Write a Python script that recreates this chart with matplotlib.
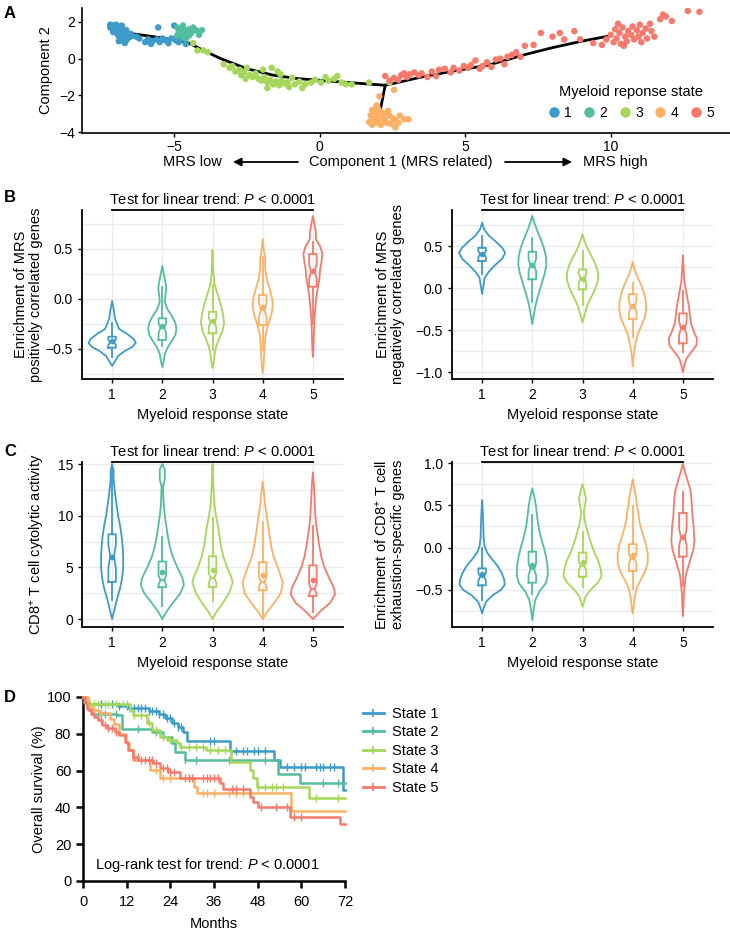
import numpy as np
import matplotlib
matplotlib.use('Agg')
import matplotlib.pyplot as plt
from matplotlib.lines import Line2D
from matplotlib.patches import FancyArrowPatch
from matplotlib.transforms import blended_transform_factory
from matplotlib.ticker import MultipleLocator

plt.rcParams['font.family'] = ['Liberation Sans', 'DejaVu Sans']
plt.rcParams['mathtext.fontset'] = 'custom'
plt.rcParams['mathtext.rm'] = 'Liberation Sans'
plt.rcParams['mathtext.it'] = 'Liberation Sans:italic'
plt.rcParams['mathtext.bf'] = 'Liberation Sans:bold'

# ---------------- colours / categories ----------------
states = ['1', '2', '3', '4', '5']
colors = ['#3C9BC9', '#52BD9F', '#A6D65A', '#FDB063', '#F6796C']

# ---------------- Panel A: trajectory scatter ----------------
s1_x = [-7.2, -7.1, -7.0, -6.9, -7.15, -7.05, -6.95, -6.85, -6.8, -6.75, -7.1, -6.95, -6.85, -6.7, -6.9, -6.75,
        -6.6, -6.8, -6.65, -6.9, -6.55, -6.45, -7.0, -6.8, -6.65, -7.2, -6.5, -6.7, -6.2, -6.0, -5.9, -5.75,
        -5.6, -5.5, -5.3, -5.2, -5.1, -4.95, -4.85, -4.75, -4.6, -5.55, -5.0, -5.4, -5.8, -6.3]
s1_y = [1.85, 1.8, 1.85, 1.75, 1.65, 1.6, 1.55, 1.65, 1.5, 1.4, 1.45, 1.35, 1.3, 1.3, 1.2, 1.15,
        1.25, 1.05, 1.0, 0.95, 1.15, 1.25, 1.7, 1.8, 1.55, 1.7, 1.35, 0.85, 1.1, 0.9, 1.05, 0.95,
        1.05, 0.9, 1.0, 0.85, 1.1, 1.0, 0.9, 1.05, 0.8, 1.7, 1.8, 1.1, 0.8, 1.2]
s2_x = [-4.9, -4.8, -4.7, -4.6, -4.85, -4.75, -4.65, -4.55, -4.5, -4.4, -4.35, -4.25, -4.9, -4.7, -4.6,
        -4.5, -4.8, -4.45, -4.05, -4.15, -4.7]
s2_y = [1.7, 1.6, 1.65, 1.5, 1.45, 1.35, 1.4, 1.3, 1.6, 1.45, 1.7, 1.55, 1.25, 1.2, 1.1,
        1.25, 1.5, 1.35, 1.55, 1.3, 1.8]
s3_x = [-4.35, -4.2, -4.0, -3.85, -3.3, -3.1, -3.0, -2.9, -2.75, -2.7, -2.6, -2.5, -2.4, -2.3, -2.2, -2.1,
        -2.0, -1.95, -1.9, -1.8, -1.7, -1.65, -1.6, -1.5, -1.45, -1.4, -1.3, -1.2, -1.1, -1.05, -1.8, -0.95,
        -0.85, -0.6, -0.5, -0.3, -0.15, 0.05, 0.2, 0.3, 0.5, 0.6, 0.75, 0.9, 1.1, 1.7, 2.4, -2.55, -1.35, -0.7]
s3_y = [0.85, 0.45, 0.45, 0.35, -0.3, -0.5, -0.4, -0.7, -0.6, -0.9, -0.75, -0.5, -0.9, -1.0, -0.8, -1.1,
        -1.2, -0.6, -1.0, -1.3, -1.15, -0.5, -1.4, -1.25, -0.7, -1.45, -1.2, -1.35, -1.3, -1.55, -1.6, -1.05,
        -1.4, -1.6, -1.4, -1.3, -1.15, -1.3, -1.0, -1.2, -1.1, -0.95, -1.3, -1.4, -1.4, -1.3, -1.3, -1.1, -0.85, -1.25]
s4_x = [1.8, 1.9, 2.0, 2.1, 2.2, 1.75, 1.85, 1.95, 2.05, 2.15, 2.25, 1.7, 1.9, 2.0, 2.1, 2.3, 2.4, 2.5,
        2.6, 2.75, 2.9, 3.05, 2.7, 2.6, 1.95, 2.35, 2.05, 2.55, 2.45, 1.8]
s4_y = [-2.8, -2.95, -2.7, -2.9, -3.0, -3.1, -3.25, -3.15, -3.3, -3.2, -3.35, -3.45, -3.5, -3.45, -3.6, -3.5,
        -3.1, -3.25, -3.35, -3.1, -3.3, -3.3, -3.5, -3.75, -2.55, -2.85, -2.05, -1.7, -3.55, -3.6]
s5_x = [2.25, 2.4, 2.55, 2.7, 2.8, 2.9, 3.0, 3.1, 3.25, 3.4, 3.5, 3.7, 3.85, 4.0, 4.1, 4.3, 4.5, 4.6, 4.8,
        4.95, 5.1, 5.2, 5.35, 5.5, 5.6, 5.75, 5.9, 6.05, 6.2, 6.35, 6.45, 6.6, 6.75, 6.9, 7.05, 7.35, 7.6,
        8.0, 8.25, 8.4, 8.75, 8.95, 9.4, 9.7, 9.85, 10.0, 10.1, 10.15, 10.2, 10.3, 10.35, 10.4, 10.5, 10.55,
        10.6, 10.7, 10.75, 10.8, 10.9, 10.95, 11.0, 11.05, 11.1, 11.2, 11.25, 11.35, 11.4, 11.5, 10.45, 10.25,
        11.7, 11.8, 11.9, 12.1, 12.65, 13.05]
s5_y = [-0.95, -1.2, -1.05, -1.15, -0.9, -0.8, -1.0, -0.85, -0.75, -0.9, -0.8, -1.0, -0.7, -0.95, -0.6,
        -0.55, -0.75, -0.5, -0.65, -0.4, -0.5, -0.35, -0.1, -0.55, -0.4, -0.2, -0.45, -0.05, 0.0, -0.3, 0.1,
        0.2, 0.35, 0.1, 0.7, 0.75, 1.4, 1.2, 1.4, 1.05, 1.5, 1.05, 0.85, 0.75, 1.05, 1.3, 0.9, 1.6, 1.1, 1.4,
        0.8, 1.7, 1.2, 0.95, 1.5, 1.3, 1.75, 1.05, 1.55, 1.2, 1.85, 0.9, 1.4, 1.65, 1.1, 1.9, 1.5, 1.2, 0.7,
        1.9, 2.15, 2.4, 2.3, 2.05, 2.6, 2.55]
scatter_x = [s1_x, s2_x, s3_x, s4_x, s5_x]
scatter_y = [s1_y, s2_y, s3_y, s4_y, s5_y]

traj_main_x = [-6.4, -5.5, -5.0, -4.5, -4.0, -3.4, -2.5, -1.6, -0.8, 0.0, 1.0, 2.25]
traj_main_y = [1.35, 1.15, 1.02, 0.85, 0.45, 0.0, -0.55, -0.9, -1.08, -1.18, -1.3, -1.45]
traj_right_x = [2.25, 3.5, 4.5, 5.8, 7.0, 8.0, 9.0, 10.0]
traj_right_y = [-1.45, -1.0, -0.7, -0.35, 0.2, 0.6, 0.95, 1.25]
traj_branch_x = [2.25, 2.1]
traj_branch_y = [-1.45, -2.65]

# ---------------- Panel B left: MRS positively correlated ----------------
bl_vy = [
    [-0.67, -0.62, -0.57, -0.52, -0.48, -0.44, -0.40, -0.35, -0.30, -0.20, -0.10, -0.02],
    [-0.68, -0.62, -0.55, -0.48, -0.42, -0.36, -0.30, -0.24, -0.17, -0.10, -0.03, 0.03, 0.10, 0.15, 0.25, 0.33],
    [-0.69, -0.64, -0.56, -0.48, -0.40, -0.32, -0.24, -0.15, -0.05, 0.05, 0.15, 0.25, 0.35, 0.49],
    [-0.74, -0.65, -0.55, -0.45, -0.35, -0.25, -0.16, -0.08, 0.00, 0.10, 0.20, 0.30, 0.40, 0.50, 0.60],
    [-0.58, -0.50, -0.35, -0.20, -0.08, 0.02, 0.12, 0.20, 0.28, 0.37, 0.45, 0.52, 0.60, 0.67, 0.75, 0.83]]
bl_vw = [
    [0.0, 0.06, 0.12, 0.25, 0.40, 0.47, 0.43, 0.30, 0.14, 0.06, 0.03, 0.0],
    [0.0, 0.03, 0.05, 0.11, 0.19, 0.26, 0.28, 0.26, 0.19, 0.10, 0.05, 0.06, 0.08, 0.07, 0.03, 0.0],
    [0.0, 0.02, 0.04, 0.07, 0.13, 0.20, 0.23, 0.21, 0.16, 0.10, 0.04, 0.02, 0.01, 0.0],
    [0.0, 0.02, 0.03, 0.04, 0.06, 0.11, 0.17, 0.20, 0.19, 0.14, 0.08, 0.05, 0.05, 0.02, 0.0],
    [0.0, 0.01, 0.02, 0.03, 0.05, 0.07, 0.10, 0.13, 0.14, 0.17, 0.19, 0.15, 0.06, 0.06, 0.03, 0.0]]
bl_q1 = [-0.487, -0.41, -0.343, -0.26, 0.123]
bl_med = [-0.433, -0.29, -0.233, -0.11, 0.273]
bl_q3 = [-0.377, -0.193, -0.127, 0.04, 0.45]
bl_wlo = [-0.577, -0.47, -0.51, -0.51, -0.25]
bl_whi = [-0.243, 0.117, 0.14, 0.423, 0.573]
bl_mean = [-0.42, -0.27, -0.22, -0.077, 0.283]
bl_nlo = [-0.46, -0.34, -0.28, -0.18, 0.20]
bl_nhi = [-0.405, -0.24, -0.19, -0.04, 0.35]

# ---------------- Panel B right: MRS negatively correlated ----------------
br_vy = [
    [-0.07, 0.04, 0.12, 0.20, 0.28, 0.35, 0.42, 0.48, 0.55, 0.62, 0.70, 0.78],
    [-0.43, -0.32, -0.22, -0.12, -0.02, 0.08, 0.18, 0.28, 0.38, 0.48, 0.58, 0.68, 0.78, 0.86],
    [-0.41, -0.30, -0.20, -0.10, 0.00, 0.10, 0.18, 0.28, 0.38, 0.47, 0.56, 0.64],
    [-0.93, -0.85, -0.75, -0.65, -0.55, -0.45, -0.35, -0.25, -0.15, -0.05, 0.05, 0.15, 0.24, 0.31],
    [-1.00, -0.92, -0.84, -0.76, -0.68, -0.60, -0.52, -0.42, -0.32, -0.22, -0.12, -0.02, 0.08, 0.18, 0.28, 0.39]]
br_vw = [
    [0.0, 0.03, 0.05, 0.14, 0.27, 0.40, 0.46, 0.40, 0.28, 0.14, 0.04, 0.0],
    [0.0, 0.03, 0.06, 0.10, 0.15, 0.20, 0.25, 0.28, 0.27, 0.23, 0.17, 0.10, 0.04, 0.0],
    [0.0, 0.05, 0.10, 0.18, 0.26, 0.31, 0.31, 0.26, 0.18, 0.10, 0.04, 0.0],
    [0.0, 0.01, 0.03, 0.06, 0.10, 0.17, 0.24, 0.27, 0.26, 0.22, 0.16, 0.08, 0.03, 0.0],
    [0.0, 0.03, 0.07, 0.17, 0.27, 0.28, 0.22, 0.16, 0.14, 0.12, 0.09, 0.06, 0.03, 0.02, 0.01, 0.0]]
br_q1 = [0.322, 0.104, -0.016, -0.369, -0.659]
br_med = [0.405, 0.274, 0.115, -0.222, -0.48]
br_q3 = [0.48, 0.433, 0.222, -0.072, -0.302]
br_wlo = [0.167, -0.163, -0.202, -0.58, -0.758]
br_whi = [0.619, 0.591, 0.444, 0.063, -0.036]
br_mean = [0.40, 0.27, 0.11, -0.21, -0.46]
br_nlo = [0.37, 0.20, 0.06, -0.29, -0.56]
br_nhi = [0.44, 0.35, 0.17, -0.15, -0.40]

# ---------------- Panel C left: CD8 T cell cytolytic activity ----------------
cl_vy = [
    [0.0, 1.0, 2.0, 3.0, 4.0, 5.0, 6.0, 7.0, 8.0, 9.0, 10.0, 11.0, 12.5, 13.5, 14.3, 15.0],
    [0.0, 0.7, 1.5, 2.5, 3.3, 4.0, 5.0, 6.0, 7.0, 8.0, 9.0, 10.0, 11.0, 12.0, 12.8, 13.5, 14.5, 15.0],
    [0.0, 0.7, 1.5, 2.5, 3.5, 4.0, 5.0, 6.0, 7.0, 8.0, 9.0, 10.0, 11.0, 12.5, 14.0, 15.0],
    [0.0, 0.7, 1.5, 2.5, 3.5, 4.0, 5.0, 6.0, 7.0, 8.0, 9.0, 10.0, 11.0, 12.5, 13.3],
    [0.0, 0.8, 1.6, 2.4, 3.0, 4.0, 5.0, 6.0, 7.0, 8.0, 9.0, 10.0, 11.0, 12.0, 13.0, 14.2]]
cl_vw = [
    [0.0, 0.05, 0.10, 0.16, 0.20, 0.22, 0.22, 0.21, 0.19, 0.16, 0.12, 0.09, 0.05, 0.03, 0.03, 0.0],
    [0.0, 0.08, 0.20, 0.36, 0.43, 0.40, 0.30, 0.21, 0.15, 0.11, 0.08, 0.05, 0.03, 0.02, 0.015, 0.05, 0.05, 0.0],
    [0.0, 0.08, 0.20, 0.33, 0.40, 0.38, 0.29, 0.22, 0.17, 0.14, 0.11, 0.07, 0.04, 0.02, 0.01, 0.0],
    [0.0, 0.09, 0.22, 0.36, 0.40, 0.37, 0.30, 0.22, 0.17, 0.14, 0.11, 0.08, 0.05, 0.02, 0.0],
    [0.0, 0.16, 0.35, 0.44, 0.42, 0.32, 0.23, 0.17, 0.13, 0.10, 0.07, 0.05, 0.04, 0.03, 0.02, 0.0]]
cl_q1 = [3.6, 3.08, 3.1, 2.78, 2.24]
cl_med = [6.1, 3.75, 3.96, 3.6, 2.9]
cl_q3 = [8.2, 5.57, 6.07, 5.5, 5.2]
cl_wlo = [1.85, 1.25, 1.7, 0.1, 0.65]
cl_whi = [14.8, 7.9, 9.8, 9.4, 9.0]
cl_mean = [5.98, 4.6, 4.7, 4.3, 3.8]
cl_nlo = [4.9, 3.3, 3.5, 3.1, 2.4]
cl_nhi = [7.2, 4.2, 4.45, 4.1, 3.4]

# ---------------- Panel C right: CD8 T cell exhaustion genes ----------------
cr_vy = [
    [-0.78, -0.72, -0.64, -0.56, -0.50, -0.44, -0.38, -0.30, -0.22, -0.14, -0.06, 0.02, 0.12, 0.25, 0.40, 0.56],
    [-0.86, -0.72, -0.62, -0.52, -0.42, -0.32, -0.20, -0.10, 0.00, 0.10, 0.20, 0.30, 0.40, 0.50, 0.60, 0.70],
    [-0.70, -0.58, -0.50, -0.42, -0.34, -0.25, -0.15, -0.05, 0.05, 0.15, 0.25, 0.34, 0.42, 0.50, 0.58, 0.66, 0.75],
    [-0.78, -0.70, -0.60, -0.48, -0.38, -0.28, -0.18, -0.08, 0.02, 0.12, 0.22, 0.32, 0.42, 0.52, 0.62, 0.72, 0.81],
    [-0.81, -0.70, -0.55, -0.42, -0.32, -0.22, -0.12, -0.02, 0.08, 0.18, 0.28, 0.38, 0.48, 0.58, 0.68, 0.78, 0.88, 0.99]]
cr_vw = [
    [0.0, 0.03, 0.08, 0.22, 0.38, 0.45, 0.44, 0.39, 0.31, 0.20, 0.10, 0.05, 0.03, 0.025, 0.015, 0.0],
    [0.0, 0.03, 0.06, 0.14, 0.27, 0.31, 0.30, 0.27, 0.23, 0.18, 0.14, 0.11, 0.09, 0.07, 0.04, 0.0],
    [0.0, 0.06, 0.16, 0.30, 0.38, 0.36, 0.31, 0.23, 0.17, 0.12, 0.07, 0.04, 0.025, 0.05, 0.07, 0.04, 0.0],
    [0.0, 0.02, 0.04, 0.08, 0.16, 0.25, 0.30, 0.30, 0.27, 0.22, 0.17, 0.13, 0.11, 0.08, 0.06, 0.025, 0.0],
    [0.0, 0.01, 0.02, 0.04, 0.06, 0.11, 0.16, 0.21, 0.23, 0.22, 0.21, 0.19, 0.18, 0.17, 0.15, 0.10, 0.05, 0.0]]
cr_q1 = [-0.448, -0.416, -0.345, -0.278, -0.107]
cr_med = [-0.345, -0.258, -0.218, -0.131, 0.119]
cr_q3 = [-0.246, -0.047, -0.059, 0.04, 0.41]
cr_wlo = [-0.615, -0.544, -0.464, -0.488, -0.456]
cr_whi = [0.0, 0.385, 0.186, 0.488, 0.655]
cr_mean = [-0.317, -0.206, -0.171, -0.087, 0.12]
cr_nlo = [-0.39, -0.33, -0.27, -0.19, 0.02]
cr_nhi = [-0.30, -0.19, -0.17, -0.07, 0.22]

# ---------------- Panel D: Kaplan-Meier ----------------
km_labels = ['State 1', 'State 2', 'State 3', 'State 4', 'State 5']
km1_t = [0, 0.5, 1.5, 9.5, 12.5, 18, 21, 22.5, 24.5, 26, 27.5, 28.5, 40.5, 52.5, 54, 71.5]
km1_s = [100, 98, 96, 95, 94, 92.5, 90.5, 88.5, 86, 83.5, 81, 76, 70.5, 66, 62, 49.5]
km2_t = [0, 0.4, 1, 2.8, 9.3, 10.6, 19, 22, 24.4, 25.3, 28, 53.5, 59.5]
km2_s = [100, 96.5, 94, 91, 90, 82.5, 81, 78.4, 74.8, 70.2, 65.5, 58, 53.5]
km3_t = [0, 1, 13, 13.8, 17.5, 19, 21.2, 23, 25.7, 26.6, 33.9, 40.8, 45.9, 46.8, 47.7, 62]
km3_s = [100, 96.4, 92.8, 90.1, 85.6, 82, 78.4, 76.6, 74.8, 73, 71.2, 64.9, 60.3, 55.8, 51, 45]
km4_t = [0, 1.3, 2.8, 4.5, 7.4, 8.5, 10, 11.8, 12.6, 13.8, 18.4, 21.2, 30.6, 31.3, 57.2]
km4_s = [100, 94.6, 93, 91.5, 88, 85.5, 80, 75, 71, 65.5, 60.3, 55.8, 51.3, 47.7, 38.2]
km5_t = [0, 0.5, 1, 1.5, 2.2, 3, 4, 5.2, 6.5, 8.8, 10, 11.5, 12.5, 13.8, 15.2, 19.3, 21.2, 23.4, 26.6,
         37.6, 38.5, 45.9, 46.8, 48, 57, 70.7]
km5_s = [100, 97, 94, 92.8, 90.5, 89, 87.5, 85, 83, 81, 79.3, 75.7, 71.2, 67.5, 65.7, 63.9, 61.2, 59.3, 55.8,
         53, 49.8, 45.7, 43, 40.2, 35, 31]
km1_c = [5, 8, 10, 12, 13, 14, 15, 16, 17, 18, 19, 20, 21, 22, 23, 24, 25, 26, 27, 35, 36, 42, 44, 45, 47,
         48, 50, 56, 58, 60, 61, 64, 65, 66, 68, 69]
km2_c = [4, 6, 9, 15, 20, 28, 31, 40, 50, 66, 70]
km3_c = [2, 3, 4, 6, 7, 9, 11, 12, 14, 16, 18, 20, 22, 24, 27, 29, 31, 33, 35, 37, 39, 48, 50, 52, 53, 55, 64, 70]
km4_c = [3, 5, 20, 22, 24, 29, 33, 34, 36, 40, 42, 44]
km5_c = [5, 6, 7, 8, 9, 14, 15, 16, 17, 18, 19, 20, 22, 23, 24, 25, 28, 29, 30, 33, 34, 35, 36, 37, 41, 42,
         44, 49, 53, 56, 58, 60]
km_t = [km1_t, km2_t, km3_t, km4_t, km5_t]
km_s = [km1_s, km2_s, km3_s, km4_s, km5_s]
km_c = [km1_c, km2_c, km3_c, km4_c, km5_c]
km_end = 72

# ======================================================================
W, H = 730, 936
fig = plt.figure(figsize=(W / 100, H / 100), dpi=100)


def add_ax(l, r, t, b):
    return fig.add_axes([l / W, 1 - b / H, (r - l) / W, (b - t) / H])


TICK_FS = 10
LAB_FS = 10.5

# ---------------- Panel A ----------------
axA = add_ax(82, 730, 8, 133)
axA.plot(traj_main_x, traj_main_y, color='black', lw=2, zorder=1)
axA.plot(traj_right_x, traj_right_y, color='black', lw=2, zorder=1)
axA.plot(traj_branch_x, traj_branch_y, color='black', lw=2, zorder=1)
for i in range(5):
    axA.scatter(scatter_x[i], scatter_y[i], s=22, color=colors[i], edgecolors='none', zorder=2)
axA.set_xlim(-8.17, 14.1)
axA.set_ylim(-4.05, 2.76)
axA.set_xticks([-5, 0, 5, 10])
axA.set_yticks([-4, -2, 0, 2])
for sp in ['top', 'right']:
    axA.spines[sp].set_visible(False)
for sp in ['left', 'bottom']:
    axA.spines[sp].set_linewidth(1.2)
axA.tick_params(labelsize=TICK_FS, length=3, width=1, pad=2)
axA.set_ylabel('Component 2', fontsize=LAB_FS)
axA.yaxis.set_label_coords(-0.045, 0.5)
handles = [Line2D([0], [0], marker='o', ls='none', color=c, markersize=6.5) for c in colors]
leg = axA.legend(handles, states, title='Myeloid reponse state', ncol=5, loc='lower right',
                 bbox_to_anchor=(0.99, 0.03), frameon=False, handlelength=0.8, handletextpad=0.35,
                 columnspacing=0.85, fontsize=10, title_fontsize=10.5, borderpad=0.2)

yA = 1 - 162 / H
fig.text(401 / W, yA, 'Component 1 (MRS related)', ha='center', va='center', fontsize=LAB_FS)
fig.text(192 / W, yA, 'MRS low', ha='center', va='center', fontsize=LAB_FS)
fig.text(615 / W, yA, 'MRS high', ha='center', va='center', fontsize=LAB_FS)
fig.add_artist(FancyArrowPatch((298 / W, yA), (233 / W, yA), transform=fig.transFigure,
                               arrowstyle='-|>', mutation_scale=12, lw=1.3, color='black',
                               shrinkA=0, shrinkB=0))
fig.add_artist(FancyArrowPatch((505 / W, yA), (572 / W, yA), transform=fig.transFigure,
                               arrowstyle='-|>', mutation_scale=12, lw=1.3, color='black',
                               shrinkA=0, shrinkB=0))


# ---------------- violin panels ----------------
def violin_panel(ax, vy, vw, q1, med, q3, wlo, whi, mean, nlo, nhi, ylim, major, ylabel, label_x):
    for i in range(5):
        st = [dict(coords=np.array(vy[i]), vals=np.array(vw[i]), mean=mean[i], median=med[i],
                   min=min(vy[i]), max=max(vy[i]))]
        parts = ax.violin(st, positions=[i + 1], widths=[2 * max(vw[i])], showmeans=False,
                          showextrema=False, showmedians=False)
        for pc in parts['bodies']:
            pc.set_facecolor('none')
            pc.set_edgecolor(colors[i])
            pc.set_linewidth(1.3)
            pc.set_alpha(1)
        bs = [dict(med=med[i], q1=q1[i], q3=q3[i], whislo=wlo[i], whishi=whi[i], cilo=nlo[i], cihi=nhi[i],
                   mean=mean[i], fliers=[])]
        c = colors[i]
        ax.bxp(bs, positions=[i + 1], widths=0.15, shownotches=True, showmeans=True, showcaps=False,
               showfliers=False, manage_ticks=False,
               boxprops=dict(color=c, lw=1.3), whiskerprops=dict(color=c, lw=1.3),
               medianprops=dict(color=c, lw=1.3),
               meanprops=dict(marker='o', markersize=3, markerfacecolor=c, markeredgecolor=c))
    ax.set_xlim(0.4, 5.6)
    ax.set_ylim(*ylim)
    ax.set_xticks([1, 2, 3, 4, 5])
    ax.set_xticklabels(states)
    ax.yaxis.set_major_locator(MultipleLocator(major))
    ax.yaxis.set_minor_locator(MultipleLocator(major / 2))
    ax.grid(which='both', axis='y', color='#EBEBEB', lw=1.0)
    ax.grid(which='major', axis='x', color='#EBEBEB', lw=1.0)
    ax.set_axisbelow(True)
    for sp in ['top', 'right']:
        ax.spines[sp].set_visible(False)
    for sp in ['left', 'bottom']:
        ax.spines[sp].set_linewidth(1.3)
    ax.tick_params(which='major', labelsize=TICK_FS, length=3, width=1)
    ax.tick_params(which='minor', length=0)
    ax.set_xlabel('Myeloid response state', fontsize=LAB_FS)
    ax.set_ylabel(ylabel, fontsize=LAB_FS, linespacing=1.1)
    ax.yaxis.set_label_coords(label_x, 0.5)
    trans = blended_transform_factory(ax.transData, ax.transAxes)
    ax.plot([1, 5], [1.0, 1.0], transform=trans, color='black', lw=1.3, clip_on=False)
    ax.text(3, 1.02, r'Test for linear trend: $\it{P}$ < 0.0001', transform=trans, ha='center',
            va='bottom', fontsize=LAB_FS)


axBL = add_ax(82, 343, 210, 379)
violin_panel(axBL, bl_vy, bl_vw, bl_q1, bl_med, bl_q3, bl_wlo, bl_whi, bl_mean, bl_nlo, bl_nhi,
             (-0.80, 0.89), 0.5, 'Enrichment of MRS\npositively correlated genes', -0.15)
axBR = add_ax(452, 713, 210, 379)
violin_panel(axBR, br_vy, br_vw, br_q1, br_med, br_q3, br_wlo, br_whi, br_mean, br_nlo, br_nhi,
             (-1.083, 0.93), 0.5, 'Enrichment of MRS\nnegatively correlated genes', -0.18)
axCL = add_ax(82, 343, 462, 627)
violin_panel(axCL, cl_vy, cl_vw, cl_q1, cl_med, cl_q3, cl_wlo, cl_whi, cl_mean, cl_nlo, cl_nhi,
             (-0.77, 15.2), 5, r'CD8$^{+}$ T cell cytolytic activity', -0.135)
axCR = add_ax(452, 713, 462, 627)
violin_panel(axCR, cr_vy, cr_vw, cr_q1, cr_med, cr_q3, cr_wlo, cr_whi, cr_mean, cr_nlo, cr_nhi,
             (-0.94, 1.012), 0.5, 'Enrichment of CD8$^{+}$ T cell\nexhaustion-specific genes', -0.18)

# ---------------- Panel D ----------------
axD = add_ax(83, 345, 697, 881)
for i in range(5):
    t = np.array(km_t[i], dtype=float)
    s = np.array(km_s[i], dtype=float)
    axD.step(np.append(t, km_end), np.append(s, s[-1]), where='post', color=colors[i], lw=1.8,
             clip_on=False, zorder=3)
    ct = np.array(km_c[i], dtype=float)
    idx = np.searchsorted(t, ct, side='right') - 1
    axD.plot(ct, s[idx], ls='none', marker='|', markersize=6, mew=1.0, color=colors[i], zorder=3)
axD.set_xlim(0, 72)
axD.set_ylim(0, 100)
axD.set_xticks(np.arange(0, 73, 12))
axD.set_yticks(np.arange(0, 101, 20))
for sp in ['top', 'right']:
    axD.spines[sp].set_visible(False)
for sp in ['left', 'bottom']:
    axD.spines[sp].set_linewidth(1.8)
axD.tick_params(labelsize=10.5, length=5, width=1.8)
axD.tick_params(axis='x', pad=5)
axD.set_xlabel('Months', fontsize=10.5, labelpad=6)
axD.set_ylabel('Overall survival (%)', fontsize=10.5)
axD.yaxis.set_label_coords(-0.14, 0.5)
axD.text(3.2, 8.7, r'Log-rank test for trend: $\it{P}$ < 0.0001', ha='left', va='center', fontsize=10.5)
km_handles = [Line2D([0], [0], color=c, lw=2, marker='|', markersize=6, mew=1.2) for c in colors]
fig.legend(km_handles, km_labels, loc='upper left', bbox_to_anchor=(350 / W, 1 - 694 / H),
           bbox_transform=fig.transFigure, frameon=False, fontsize=10.5, handlelength=1.4,
           labelspacing=0.3, handletextpad=0.55)

# ---------------- panel letters ----------------
for letter, yy in [('A', 13), ('B', 197), ('C', 451), ('D', 697)]:
    fig.text(10 / W, 1 - yy / H, letter, fontsize=12, fontweight='bold', ha='center', va='center')

fig.savefig('out.png', dpi=100)
